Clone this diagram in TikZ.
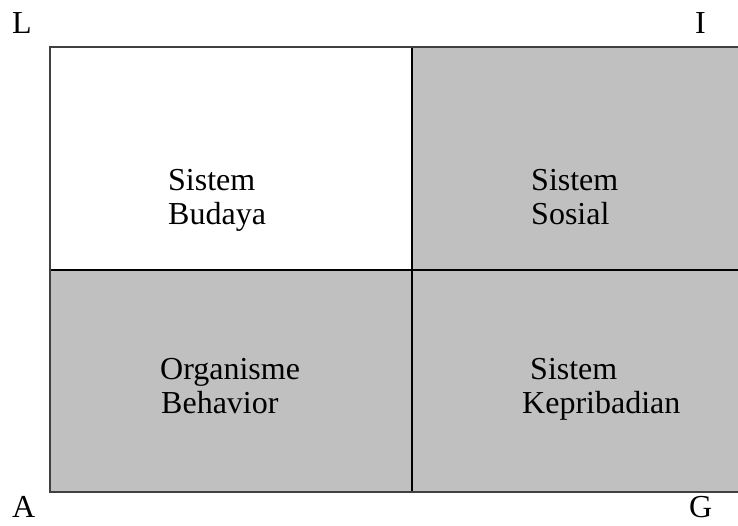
\documentclass[tikz,border=0pt]{standalone}
\usepackage{fontspec}
\setmainfont{Liberation Serif}
\definecolor{cellgray}{HTML}{C0C0C0}
\definecolor{edgegray}{HTML}{404040}
\begin{document}
\begin{tikzpicture}[x=1pt,y=1pt,
  lbl/.style={anchor=base west,inner sep=0pt,font=\fontsize{32}{34}\selectfont},
  cellfill/.style={fill=cellgray},
  outer/.style={draw=edgegray,line width=1.6pt},
  inner/.style={draw=black,line width=1.4pt}]
\useasboundingbox (0,0) rectangle (738,525);
\clip (0,0) rectangle (738,525);
% cells (y measured upward: y = 525 - image y)
\fill[cellfill] (412,255) rectangle (745,478);
\fill[cellfill] (50,33) rectangle (745,255);
\draw[inner] (412,478) -- (412,33);
\draw[inner] (50,255) -- (745,255);
\draw[outer] (745,478) -- (50,478) -- (50,33) -- (745,33);
% corner letters
\node[lbl] (L) at (12,491) {L};
\node[lbl] (I) at (695,491) {I};
\node[lbl] (A) at (12,8) {A};
\node[lbl] (G) at (689,8) {G};
% cell texts
\node[lbl] (t1a) at (168,334) {Sistem};
\node[lbl] (t1b) at (168,300) {Budaya};
\node[lbl] (t2a) at (531,334) {Sistem};
\node[lbl] (t2b) at (531,300) {Sosial};
\node[lbl] (t3a) at (160,146) {Organisme};
\node[lbl] (t3b) at (161,112) {Behavior};
\node[lbl] (t4a) at (530,146) {Sistem};
\node[lbl] (t4b) at (522,112) {Kepribadian};
\end{tikzpicture}
\end{document}
